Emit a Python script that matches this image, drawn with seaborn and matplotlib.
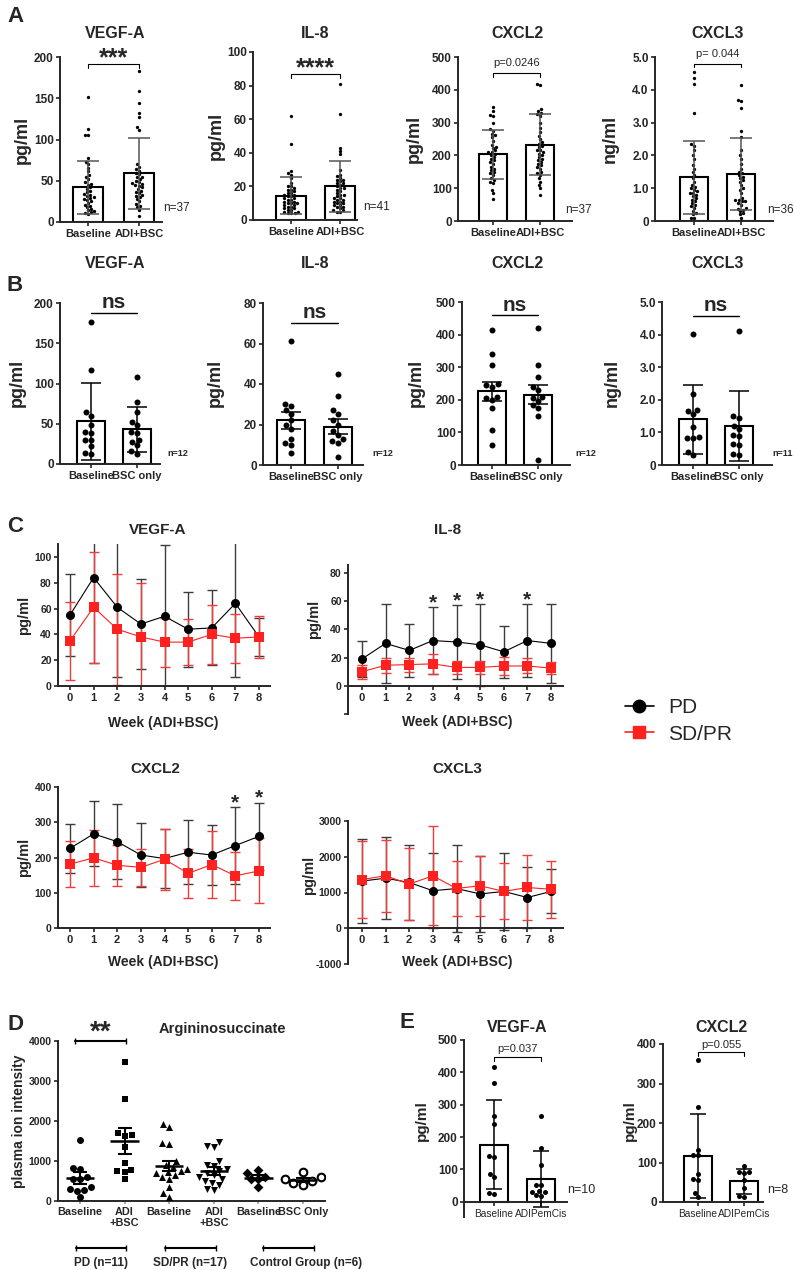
import warnings
import numpy as np
import pandas as pd
import matplotlib
matplotlib.use('Agg')
import matplotlib.pyplot as plt
import matplotlib.transforms as mtransforms
from matplotlib.lines import Line2D
import seaborn as sns

warnings.filterwarnings('ignore')

# ---------------- data ----------------
# Panel A: baseline vs ADI+BSC (bar = mean, whiskers = SD)
a_groups = ['Baseline', 'ADI+BSC']
a_vegf_base = [152, 113, 106, 105, 77, 73, 70, 66, 62, 57, 55, 52, 48, 46, 45, 42, 40, 38, 36,
               33, 31, 30, 28, 27, 25, 23, 21, 20, 18, 16, 14, 13, 12, 11, 10, 34, 29]
a_vegf_adi = [183, 159, 144, 132, 127, 115, 112, 70, 67, 62, 58, 55, 54, 52, 50, 48, 46, 44, 42,
              40, 38, 36, 35, 32, 30, 28, 25, 22, 20, 18, 15, 7, 60, 64, 45, 47, 33]
a_vegf_mean = [42, 59]
a_vegf_sd = [32, 43]

a_il8_base = [62, 45, 29, 28, 27, 25, 22, 20, 19, 18, 17, 16, 15, 15, 14, 14, 13, 13, 12, 12, 11,
              11, 10, 10, 9, 9, 8, 8, 7, 7, 6, 6, 5, 5, 4, 4, 4, 16, 18, 20, 10]
a_il8_adi = [81, 63, 43, 41, 39, 30, 27, 26, 25, 24, 23, 22, 21, 20, 19, 18, 17, 16, 15, 14, 13,
             12, 12, 11, 10, 10, 9, 8, 7, 6, 6, 5, 5, 24, 22, 19, 15, 13, 11, 9, 8]
a_il8_mean = [14.5, 20]
a_il8_sd = [11, 15]

a_cxcl2_base = [348, 335, 322, 320, 300, 280, 275, 265, 262, 255, 245, 232, 225, 222, 215, 210,
                205, 200, 195, 190, 185, 180, 175, 165, 160, 155, 150, 145, 140, 132, 125, 120,
                115, 95, 85, 67, 210]
a_cxcl2_adi = [418, 415, 340, 335, 330, 325, 320, 300, 285, 270, 240, 235, 230, 225, 215, 210,
               200, 190, 185, 180, 175, 170, 165, 160, 150, 145, 140, 130, 120, 110, 100, 80,
               250, 260, 195, 205, 215]
a_cxcl2_mean = [203, 232]
a_cxcl2_sd = [74, 93]

a_cxcl3_base = [4.55, 4.35, 4.18, 3.28, 2.35, 2.3, 2.15, 2.0, 1.9, 1.7, 1.6, 1.5, 1.4, 1.3, 1.2,
                1.1, 1.0, 0.95, 0.9, 0.85, 0.8, 0.75, 0.7, 0.65, 0.6, 0.55, 0.5, 0.45, 0.4, 0.3,
                0.25, 0.2, 0.1, 0.1, 1.05, 0.85]
a_cxcl3_adi = [4.15, 3.7, 3.65, 3.45, 2.75, 2.55, 2.15, 2.0, 1.9, 1.75, 1.6, 1.5, 1.45, 1.4, 1.3,
               1.25, 1.2, 1.1, 1.0, 0.95, 0.85, 0.7, 0.65, 0.6, 0.55, 0.5, 0.4, 0.38, 0.35, 0.3,
               0.25, 0.2, 0.1, 1.35, 0.65, 0.6]
a_cxcl3_mean = [1.33, 1.43]
a_cxcl3_sd = [1.12, 1.09]

# Panel B: baseline vs BSC only
b_groups = ['Baseline', 'BSC only']
b_vegf_base = [177, 117, 64, 60, 48, 40, 38, 30, 30, 22, 12, 14]
b_vegf_bsc = [108, 77, 64, 52, 48, 40, 38, 30, 27, 23, 16, 13]
b_vegf_mean = [53, 43]
b_vegf_err = [48, 28]
b_il8_base = [61, 30, 29, 27, 25, 22, 20, 18, 13, 11, 10, 6]
b_il8_bsc = [45, 34, 27, 25, 22, 20, 17, 15, 13, 12, 11, 4]
b_il8_mean = [22, 19]
b_il8_err = [4, 3.6]
b_cxcl2_base = [415, 342, 308, 248, 245, 210, 205, 200, 175, 108, 60, 240]
b_cxcl2_bsc = [420, 308, 270, 240, 230, 210, 205, 195, 175, 150, 14, 185]
b_cxcl2_mean = [226, 215]
b_cxcl2_err = [29, 29]
b_cxcl3_base = [4.02, 2.18, 1.68, 1.65, 1.55, 1.18, 0.85, 0.83, 0.82, 0.4, 0.3]
b_cxcl3_bsc = [4.1, 1.5, 1.45, 1.2, 1.1, 0.93, 0.9, 0.65, 0.6, 0.35, 0.3]
b_cxcl3_mean = [1.4, 1.2]
b_cxcl3_err = [1.05, 1.07]

# Panel C: weekly time course, PD vs SD/PR (mean, SD)
weeks = [0, 1, 2, 3, 4, 5, 6, 7, 8]
c_vegf_pd_mean = [55, 84, 61, 48, 54, 44, 45, 64, 38]
c_vegf_pd_sd = [32, 66, 54, 35, 55, 29, 29, 57, 15]
c_vegf_sp_mean = [35, 61, 44, 38, 34, 34, 40, 37, 38]
c_vegf_sp_sd = [30, 43, 43, 42, 19, 18, 23, 19, 16]

c_il8_pd_mean = [19, 30, 25, 32, 31, 29, 24, 32, 30]
c_il8_pd_sd = [13, 28, 18.5, 24, 26, 29, 18.5, 26, 28]
c_il8_sp_mean = [10, 14.5, 15, 15.5, 13, 13, 14, 14, 12.5]
c_il8_sp_sd = [5, 5.5, 5, 7, 4.5, 4.5, 6.5, 5.3, 4]
c_il8_stars = [3, 4, 5, 7]

c_cxcl2_pd_mean = [226, 267, 245, 207, 197, 215, 207, 234, 260]
c_cxcl2_pd_sd = [70, 92, 107, 92, 84, 90, 86, 108, 95]
c_cxcl2_sp_mean = [181, 199, 178, 172, 195, 155, 180, 148, 162]
c_cxcl2_sp_sd = [65, 79, 58, 53, 87, 69, 94, 68, 92]
c_cxcl2_stars = [7, 8]

c_cxcl3_pd_mean = [1320, 1400, 1280, 1050, 1110, 960, 1030, 860, 1030]
c_cxcl3_pd_sd = [1165, 1155, 1060, 1050, 1206, 1074, 1075, 840, 617]
c_cxcl3_sp_mean = [1360, 1470, 1234, 1467, 1112, 1190, 1030, 1140, 1090]
c_cxcl3_sp_sd = [1087, 1010, 1010, 1390, 776, 841, 785, 897, 795]

# Panel D: argininosuccinate (mean +/- SEM)
d_groups = ['PD Baseline', 'PD ADI+BSC', 'SD/PR Baseline', 'SD/PR ADI+BSC',
            'Control Baseline', 'Control BSC Only']
d_ticklabels = ['Baseline', 'ADI\n+BSC', 'Baseline', 'ADI\n+BSC', 'Baseline', 'BSC Only']
d_pd_base = [1520, 830, 790, 600, 560, 540, 350, 300, 270, 260, 100]
d_pd_adi = [3470, 2540, 1700, 1650, 1620, 1350, 950, 780, 760, 720, 540]
d_sp_base = [1920, 1850, 1450, 1420, 1000, 900, 850, 800, 760, 720, 700, 650, 600, 550, 350, 200, 100]
d_sp_adi = [1470, 1350, 1370, 1000, 900, 880, 800, 760, 700, 650, 600, 560, 500, 450, 400, 300, 280]
d_ctl_base = [780, 700, 600, 560, 550, 350]
d_ctl_bsc = [720, 600, 550, 500, 450, 400]
d_mean = [575, 1490, 870, 750, 585, 520]
d_sem = [150, 325, 125, 95, 60, 45]
d_cohorts = ['PD (n=11)', 'SD/PR (n=17)', 'Control Group (n=6)']

# Panel E: baseline vs ADIPemCis
e_groups = ['Baseline', 'ADIPemCis']
e_vegf_base = [418, 366, 264, 241, 143, 137, 86, 77, 25, 28]
e_vegf_adi = [265, 165, 115, 53, 51, 31, 30, 20, 19, 33]
e_vegf_mean = [177, 70]
e_vegf_sd = [139, 86]
e_cxcl2_base = [359, 240, 132, 120, 118, 71, 57, 55, 23, 12]
e_cxcl2_adi = [90, 76, 75, 73, 55, 35, 15, 12]
e_cxcl2_mean = [117, 52]
e_cxcl2_sd = [107, 31]

# ---------------- styling ----------------
sns.set_style('ticks')
plt.rcParams['font.family'] = ['Liberation Sans', 'DejaVu Sans']
plt.rcParams['axes.linewidth'] = 1.4
plt.rcParams['xtick.major.width'] = 1.2
plt.rcParams['ytick.major.width'] = 1.2
plt.rcParams['xtick.major.size'] = 3
plt.rcParams['ytick.major.size'] = 3
plt.rcParams['xtick.major.pad'] = 2
plt.rcParams['ytick.major.pad'] = 1.5

W, H = 794, 1270
fig = plt.figure(figsize=(W / 100, H / 100), dpi=100)


def box(l, t, r, b):
    return fig.add_axes([l / W, 1 - b / H, (r - l) / W, (b - t) / H])


def ftext(x, y, s, **kw):
    kw.setdefault('ha', 'center')
    kw.setdefault('va', 'center')
    fig.text(x / W, 1 - y / H, s, **kw)


def bar_panel(px, groups, vals, means, errs, ylim, yticks, ylabels,
              dot=2.4, ecolor='#555555', capsize=8, tick_fs=8.5, xfs=8, xweight='bold',
              zero_axis=False):
    l, t, r, b, c0, c1 = px
    ax = box(l, t, r, b)
    df = pd.DataFrame({'group': np.repeat(groups, [len(v) for v in vals]),
                       'value': np.concatenate(vals)})
    sns.barplot(x=groups, y=means, order=groups, ax=ax, color='white', edgecolor='black',
                linewidth=1.5, width=0.6, errorbar=None, zorder=1)
    sns.swarmplot(data=df, x='group', y='value', order=groups, ax=ax, color='black',
                  size=dot, zorder=3)
    ax.errorbar([0, 1], means, yerr=errs, fmt='none', ecolor=ecolor, elinewidth=1.1,
                capsize=capsize, capthick=1.1, zorder=4)
    sns.despine(ax=ax)
    if zero_axis:
        ax.spines['bottom'].set_position(('data', 0))
    ax.set_xlim((l - c0) / (c1 - c0), (r - c0) / (c1 - c0))
    ax.set_ylim(*ylim)
    ax.set_yticks(yticks, labels=ylabels, fontsize=tick_fs, fontweight='bold')
    ax.set_xticks([0, 1], labels=groups, fontsize=xfs, fontweight=xweight)
    ax.set_xlabel('')
    ax.set_ylabel('')
    return ax


def bracket(ax, y, h, text, ty, fs, weight='normal', ends=True):
    if ends:
        ax.plot([0, 0, 1, 1], [y - h, y, y, y - h], color='black', lw=0.8, clip_on=False)
    else:
        ax.plot([0, 1], [y, y], color='black', lw=1.0, clip_on=False)
    ax.text(0.5, ty, text, ha='center', va='center', fontsize=fs, fontweight=weight,
            clip_on=False)


def line_panel(px, pd_m, pd_s, sp_m, sp_s, ylim, yticks, ylabels, zero_axis=False):
    l, t, r, b, w0, w8 = px
    ax = box(l, t, r, b)
    ax.errorbar(weeks, pd_m, yerr=pd_s, fmt='none', ecolor='#3c3c3c', elinewidth=1.0,
                capsize=3.5, capthick=1.0, zorder=2)
    ax.errorbar(weeks, sp_m, yerr=sp_s, fmt='none', ecolor='#f03c3c', elinewidth=1.0,
                capsize=3.5, capthick=1.0, zorder=2.5)
    sns.lineplot(x=weeks, y=pd_m, ax=ax, color='black', marker='o', markersize=6.5,
                 markeredgewidth=0, linewidth=0.8, zorder=3)
    sns.lineplot(x=weeks, y=sp_m, ax=ax, color='#ff2020', marker='s', markersize=6.5,
                 markeredgewidth=0, linewidth=0.8, zorder=3.5)
    sns.despine(ax=ax)
    if zero_axis:
        ax.spines['bottom'].set_position(('data', 0))
    scale = (w8 - w0) / 8
    ax.set_xlim((l - w0) / scale, 8 + (r - w8) / scale)
    ax.set_ylim(*ylim)
    ax.set_xticks(weeks, labels=[str(w) for w in weeks], fontsize=8, fontweight='bold')
    ax.set_yticks(yticks, labels=ylabels, fontsize=7.5, fontweight='bold')
    ax.set_xlabel('')
    ax.set_ylabel('')
    return ax


# ---------------- panel A ----------------
ftext(15, 17, 'A', fontsize=16, fontweight='bold')
ax = bar_panel((60, 57, 162, 222, 88, 139), a_groups, [a_vegf_base, a_vegf_adi],
               a_vegf_mean, a_vegf_sd, (0, 200), [0, 50, 100, 150, 200],
               ['0', '50', '100', '150', '200'])
bracket(ax, 192, 5, '***', 199, 18, 'bold')
ftext(163, 208, 'n=37', fontsize=8.5, ha='left')
ftext(115, 34, 'VEGF-A', fontsize=11.5, fontweight='bold')
ftext(22, 140, 'pg/ml', fontsize=13, fontweight='bold', rotation=90)

ax = bar_panel((253, 52, 357, 220, 291, 340), a_groups, [a_il8_base, a_il8_adi],
               a_il8_mean, a_il8_sd, (0, 100), [0, 20, 40, 60, 80, 100],
               ['0', '20', '40', '60', '80', '100'])
bracket(ax, 87, 2.5, '****', 90.5, 18, 'bold')
ftext(363, 207, 'n=41', fontsize=8.5, ha='left')
ftext(315, 34, 'IL-8', fontsize=11.5, fontweight='bold')
ftext(216, 136, 'pg/ml', fontsize=13, fontweight='bold', rotation=90)

ax = bar_panel((458, 57, 572, 221, 493, 540), a_groups, [a_cxcl2_base, a_cxcl2_adi],
               a_cxcl2_mean, a_cxcl2_sd, (0, 500), [0, 100, 200, 300, 400, 500],
               ['0', '100', '200', '300', '400', '500'])
bracket(ax, 451, 12, 'p=0.0246', 483, 8)
ftext(565, 210, 'n=37', fontsize=8.5, ha='left')
ftext(517, 34, 'CXCL2', fontsize=11.5, fontweight='bold')
ftext(414, 139, 'pg/ml', fontsize=13, fontweight='bold', rotation=90)

ax = bar_panel((655, 57, 773, 221, 694, 741), a_groups, [a_cxcl3_base, a_cxcl3_adi],
               a_cxcl3_mean, a_cxcl3_sd, (0, 5), [0, 1, 2, 3, 4, 5],
               ['0', '1.0', '2.0', '3.0', '4.0', '5.0'])
bracket(ax, 4.8, 0.12, 'p= 0.044', 5.1, 8)
ftext(767, 210, 'n=36', fontsize=8.5, ha='left')
ftext(718, 34, 'CXCL3', fontsize=11.5, fontweight='bold')
ftext(610, 139, 'ng/ml', fontsize=13, fontweight='bold', rotation=90)

# ---------------- panel B ----------------
ftext(15, 285, 'B', fontsize=16, fontweight='bold')
ax = bar_panel((60, 303, 160, 464, 91, 137), b_groups, [b_vegf_base, b_vegf_bsc],
               b_vegf_mean, b_vegf_err, (0, 200), [0, 50, 100, 150, 200],
               ['0', '50', '100', '150', '200'], dot=4.3, ecolor='black', capsize=7.5)
bracket(ax, 187, 0, 'ns', 200, 15, 'bold', ends=False)
ftext(167, 453, 'n=12', fontsize=6.5, fontweight='bold', ha='left')
ftext(115, 263, 'VEGF-A', fontsize=11.5, fontweight='bold')
ftext(17, 383, 'pg/ml', fontsize=13, fontweight='bold', rotation=90)

ax = bar_panel((263, 303, 363, 465, 291, 338), b_groups, [b_il8_base, b_il8_bsc],
               b_il8_mean, b_il8_err, (0, 80), [0, 20, 40, 60, 80],
               ['0', '20', '40', '60', '80'], dot=4.3, ecolor='black', capsize=7.5)
bracket(ax, 70, 0, 'ns', 75.5, 15, 'bold', ends=False)
ftext(372, 454, 'n=12', fontsize=6.5, fontweight='bold', ha='left')
ftext(315, 263, 'IL-8', fontsize=11.5, fontweight='bold')
ftext(215, 383, 'pg/ml', fontsize=13, fontweight='bold', rotation=90)

ax = bar_panel((462, 302, 570, 465, 492, 538), b_groups, [b_cxcl2_base, b_cxcl2_bsc],
               b_cxcl2_mean, b_cxcl2_err, (0, 500), [0, 100, 200, 300, 400, 500],
               ['0', '100', '200', '300', '400', '500'], dot=4.3, ecolor='black', capsize=7.5)
bracket(ax, 460, 0, 'ns', 490, 15, 'bold', ends=False)
ftext(575, 454, 'n=12', fontsize=6.5, fontweight='bold', ha='left')
ftext(517, 263, 'CXCL2', fontsize=11.5, fontweight='bold')
ftext(416, 383, 'pg/ml', fontsize=13, fontweight='bold', rotation=90)

ax = bar_panel((662, 302, 772, 465, 693, 739), b_groups, [b_cxcl3_base, b_cxcl3_bsc],
               b_cxcl3_mean, b_cxcl3_err, (0, 5), [0, 1, 2, 3, 4, 5],
               ['0', '1.0', '2.0', '3.0', '4.0', '5.0'], dot=4.3, ecolor='black', capsize=7.5)
bracket(ax, 4.57, 0, 'ns', 4.9, 15, 'bold', ends=False)
ftext(772, 454, 'n=11', fontsize=6.5, fontweight='bold', ha='left')
ftext(718, 263, 'CXCL3', fontsize=11.5, fontweight='bold')
ftext(612, 383, 'ng/ml', fontsize=13, fontweight='bold', rotation=90)

# ---------------- panel C ----------------
ftext(15, 527, 'C', fontsize=16, fontweight='bold')
ax = line_panel((58, 544, 270, 686, 70, 259), c_vegf_pd_mean, c_vegf_pd_sd,
                c_vegf_sp_mean, c_vegf_sp_sd, (0, 110), [0, 20, 40, 60, 80, 100],
                ['0', '20', '40', '60', '80', '100'])
ftext(158, 530, 'VEGF-A', fontsize=11, fontweight='bold')
ftext(24, 615, 'pg/ml', fontsize=10.5, fontweight='bold', rotation=90)
ftext(163, 723, 'Week (ADI+BSC)', fontsize=10, fontweight='bold')

ax = line_panel((348, 565, 563, 714, 362, 551), c_il8_pd_mean, c_il8_pd_sd,
                c_il8_sp_mean, c_il8_sp_sd, (-20, 85.5), [-20, 0, 20, 40, 60, 80],
                ['', '0', '20', '40', '60', '80'], zero_axis=True)
for w in c_il8_stars:
    ax.text(w, c_il8_pd_mean[w] + c_il8_pd_sd[w] + 3, '*', ha='center', va='center',
            fontsize=15, fontweight='bold')
ftext(448, 530, 'IL-8', fontsize=11, fontweight='bold')
ftext(314, 619, 'pg/ml', fontsize=10.5, fontweight='bold', rotation=90)
ftext(457, 722, 'Week (ADI+BSC)', fontsize=10, fontweight='bold')

ax = line_panel((58, 787, 270, 928, 70, 259), c_cxcl2_pd_mean, c_cxcl2_pd_sd,
                c_cxcl2_sp_mean, c_cxcl2_sp_sd, (0, 400), [0, 100, 200, 300, 400],
                ['0', '100', '200', '300', '400'])
for w in c_cxcl2_stars:
    ax.text(w, c_cxcl2_pd_mean[w] + c_cxcl2_pd_sd[w] + 14, '*', ha='center', va='center',
            fontsize=15, fontweight='bold', clip_on=False)
ftext(155, 769, 'CXCL2', fontsize=11, fontweight='bold')
ftext(24, 857, 'pg/ml', fontsize=10.5, fontweight='bold', rotation=90)
ftext(163, 962, 'Week (ADI+BSC)', fontsize=10, fontweight='bold')

ax = line_panel((348, 821, 563, 964, 362, 551), c_cxcl3_pd_mean, c_cxcl3_pd_sd,
                c_cxcl3_sp_mean, c_cxcl3_sp_sd, (-1000, 3000), [-1000, 0, 1000, 2000, 3000],
                ['-1000', '0', '1000', '2000', '3000'], zero_axis=True)
ftext(457, 769, 'CXCL3', fontsize=11, fontweight='bold')
ftext(309, 875, 'pg/ml', fontsize=10.5, fontweight='bold', rotation=90)
ftext(457, 962, 'Week (ADI+BSC)', fontsize=10, fontweight='bold')

handles = [Line2D([0], [0], color='black', marker='o', markersize=9, lw=1.2, label='PD'),
           Line2D([0], [0], color='#ff2020', marker='s', markersize=9, lw=1.2, label='SD/PR')]
fig.legend(handles=handles, loc='center left', bbox_to_anchor=(606 / W, 1 - 721 / H),
           frameon=False, prop={'size': 15}, handlelength=1.4,
           handletextpad=0.7, labelspacing=0.35)

# ---------------- panel D ----------------
ftext(15, 1025, 'D', fontsize=16, fontweight='bold')
ax = box(58, 1041, 325, 1201)
d_values = [d_pd_base, d_pd_adi, d_sp_base, d_sp_adi, d_ctl_base, d_ctl_bsc]
d_df = pd.DataFrame({'group': np.repeat(d_groups, [len(v) for v in d_values]),
                     'value': np.concatenate(d_values)})
d_markers = ['o', 's', '^', 'v', 'D', 'open']
for g, m in zip(d_groups, d_markers):
    sub = d_df[d_df['group'] == g]
    if m == 'open':
        sns.swarmplot(data=sub, x='group', y='value', order=d_groups, ax=ax, marker='o',
                      color='white', edgecolor='black', linewidth=1.5, size=5.5, zorder=3)
    else:
        sns.swarmplot(data=sub, x='group', y='value', order=d_groups, ax=ax, marker=m,
                      color='black', size=5, zorder=3)
xs = np.arange(len(d_groups))
ax.hlines(d_mean, xs - 0.32, xs + 0.32, color='black', lw=1.8, zorder=4)
ax.errorbar(xs, d_mean, yerr=d_sem, fmt='none', ecolor='black', elinewidth=1.5,
            capsize=5, capthick=1.5, zorder=4)
ax.set_xlim(-0.49, 5.49)
ax.set_ylim(0, 4000)
ax.set_yticks([0, 1000, 2000, 3000, 4000], labels=['0', '1000', '2000', '3000', '4000'],
              fontsize=7.5, fontweight='bold')
ax.set_xticks(xs, labels=d_ticklabels, fontsize=7.8, fontweight='bold')
ax.tick_params(axis='x', length=2, color='#999999')
ax.set_xlabel('')
ax.set_ylabel('')
sns.despine(ax=ax)
# ** bracket
ax.plot([-0.1, 1.03], [4000, 4000], color='black', lw=1.5, marker='|', markersize=5,
        clip_on=False)
ax.text(0.47, 4200, '**', ha='center', va='center', fontsize=20, fontweight='bold',
        clip_on=False)
ax.text(3.2, 4300, 'Argininosuccinate', ha='center', va='center', fontsize=10.5,
        fontweight='bold', clip_on=False)
# cohort brackets below the axis
trans = mtransforms.blended_transform_factory(ax.transData, ax.transAxes)
for (x0, x1), lab in zip([(-0.09, 1.03), (1.9, 3.05), (4.1, 5.25)], d_cohorts):
    ax.plot([x0, x1], [-0.295, -0.295], transform=trans, color='black', lw=1.5,
            marker='|', markersize=5, clip_on=False)
    ax.text((x0 + x1) / 2 + (0.4 if lab.startswith('Control') else 0), -0.385, lab,
            transform=trans, ha='center', va='center', fontsize=8.5, fontweight='bold')
ftext(19, 1121, 'plasma ion intensity', fontsize=10, fontweight='bold', rotation=90)

# ---------------- panel E ----------------
ftext(407, 1023, 'E', fontsize=16, fontweight='bold')
ax = bar_panel((464, 1040, 567, 1217, 494, 541), e_groups, [e_vegf_base, e_vegf_adi],
               e_vegf_mean, e_vegf_sd, (-47, 500), [0, 100, 200, 300, 400, 500],
               ['0', '100', '200', '300', '400', '500'], dot=3.6, ecolor='black',
               capsize=6, tick_fs=8.5, xfs=7.3, xweight='normal', zero_axis=True)
bracket(ax, 447, 12, 'p=0.037', 473, 8)
ftext(567, 1190, 'n=10', fontsize=9, ha='left')
ftext(517, 1028, 'VEGF-A', fontsize=11.5, fontweight='bold')
ftext(422, 1121, 'pg/ml', fontsize=11, fontweight='bold', rotation=90)

ax = bar_panel((663, 1044, 763, 1202, 698, 744), e_groups, [e_cxcl2_base, e_cxcl2_adi],
               e_cxcl2_mean, e_cxcl2_sd, (0, 400), [0, 100, 200, 300, 400],
               ['0', '100', '200', '300', '400'], dot=3.6, ecolor='black',
               capsize=6, tick_fs=8.5, xfs=7.3, xweight='normal')
bracket(ax, 380, 10, 'p=0.055', 398, 8)
ftext(767, 1190, 'n=8', fontsize=9, ha='left')
ftext(722, 1028, 'CXCL2', fontsize=11.5, fontweight='bold')
ftext(630, 1121, 'pg/ml', fontsize=11, fontweight='bold', rotation=90)

fig.savefig('out.png', dpi=100, facecolor='white')
